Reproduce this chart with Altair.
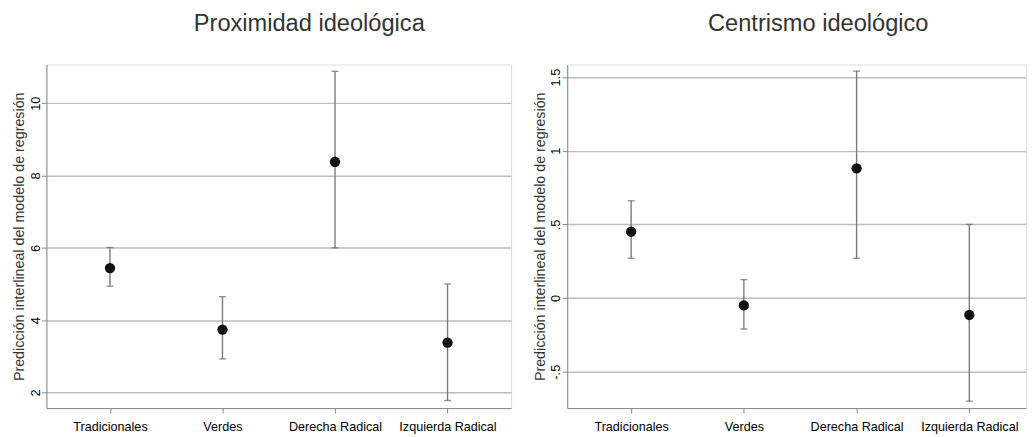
import altair as alt
import pandas as pd

categories = ["Tradicionales", "Verdes", "Derecha Radical", "Izquierda Radical"]

prox_est = [5.44, 3.74, 8.38, 3.38]
prox_lo = [4.94, 2.93, 6.00, 1.78]
prox_hi = [6.01, 4.65, 10.88, 5.00]

cent_est = [0.45, -0.05, 0.88, -0.115]
cent_lo = [0.27, -0.21, 0.27, -0.70]
cent_hi = [0.66, 0.125, 1.54, 0.50]

prox_ticks = [2, 4, 6, 8, 10]
prox_tick_labels = ["2", "4", "6", "8", "10"]
cent_ticks = [-0.5, 0, 0.5, 1, 1.5]
cent_tick_labels = ["-.5", "0", ".5", "1", "1.5"]

titles = ["Proximidad ideológica", "Centrismo ideológico"]
y_title = "Predicción interlineal del modelo de regresión"

FONT = "Liberation Sans"


def label_expr(values, labels):
    expr = "''"
    for v, l in zip(values, labels):
        expr = f"abs(datum.value - ({v})) < 1e-6 ? '{l}' : ({expr})"
    return expr


def panel(est, lo, hi, ticks, tick_labels, domain, title, width, padding, align, dx):
    df = pd.DataFrame({"cat": categories, "est": est, "lo": lo, "hi": hi})
    x = alt.X(
        "cat:N",
        sort=categories,
        scale=alt.Scale(type="point", padding=padding, align=align),
        axis=alt.Axis(
            title=None, labelAngle=0, grid=False, ticks=True, tickSize=5,
            labelPadding=18, labelBaseline="alphabetic", labelFontSize=12.8,
        ),
    )
    yscale = alt.Scale(domain=domain, nice=False, zero=False)
    yaxis = alt.Axis(
        title=y_title, values=ticks, labelExpr=label_expr(ticks, tick_labels),
        grid=True, gridColor="#bdbdbd", gridWidth=1.5,
        tickSize=5, labelAngle=270, labelAlign="center", labelBaseline="alphabetic",
        labelPadding=2.5, labelFontSize=13,
        titleFontSize=14.5, titleFontWeight="normal", titleAngle=270,
        titleBaseline="alphabetic", titleX=-23, titleColor="#333",
    )
    base = alt.Chart(df)
    rule = base.mark_rule(color="#7a7a7a", strokeWidth=1.4).encode(
        x=x, y=alt.Y("lo:Q", scale=yscale, axis=yaxis), y2="hi:Q"
    )
    cap_lo = base.mark_tick(color="#666", size=7, thickness=1.4).encode(x=x, y=alt.Y("lo:Q"))
    cap_hi = base.mark_tick(color="#666", size=7, thickness=1.4).encode(x=x, y=alt.Y("hi:Q"))
    pts = base.mark_circle(color="#111", size=110, opacity=1).encode(x=x, y=alt.Y("est:Q"))
    return alt.layer(rule, cap_lo, cap_hi, pts).properties(
        width=width, height=349,
        title=alt.Title(
            title, fontSize=24, fontWeight="normal", color="#333", font=FONT,
            anchor="middle", frame="group", baseline="alphabetic", offset=10, dx=dx,
        ),
    )


left = panel(prox_est, prox_lo, prox_hi, prox_ticks, prox_tick_labels,
             [1.57, 11.07], titles[0], 472, 0.565, 0.5, 31)
right = panel(cent_est, cent_lo, cent_hi, cent_ticks, cent_tick_labels,
              [-0.747, 1.585], titles[1], 466, 0.535, 0.53, 22)

chart = (
    alt.hconcat(left, right, spacing=20)
    .properties(padding={"left": 3, "top": 0, "right": 0, "bottom": 0})
    .configure_view(stroke=None)
    .configure_axis(
        labelFont=FONT, titleFont=FONT, labelColor="#222", domainColor="#111",
        domainWidth=1.3, tickColor="#333", tickWidth=1,
    )
    .configure(background="white")
)

chart.save("out.html", embed_options={"renderer": "svg", "actions": False})
